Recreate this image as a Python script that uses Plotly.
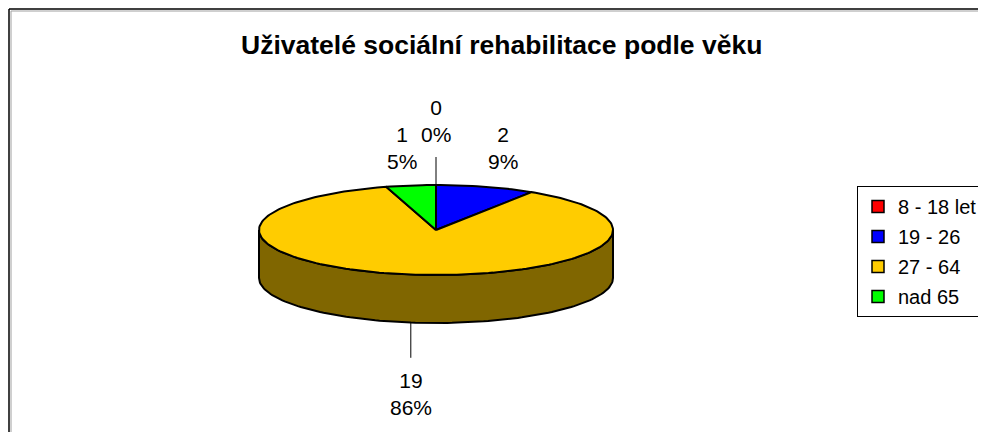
import numpy as np
import plotly.graph_objects as go

# ---- data ----
categories = ["8 - 18 let", "19 - 26", "27 - 64", "nad 65"]
values = [0, 2, 19, 1]
title_text = "Uživatelé sociální rehabilitace podle věku"

# ---- style ----
colors = ["#FF0000", "#0000FF", "#FFCC00", "#00FF00"]
side_colors = ["#800000", "#000080", "#806600", "#008000"]
label_dist = [64, 40, 72, 38]
leader = [True, False, True, False]
FONT = "Liberation Sans, Arial, sans-serif"

W, H = 986, 432
OFF = 8  # page body margin compensation (screen = figure + 8)
cx, cy, rx, ry, depth = 436, 230, 177, 45, 48


def pt(theta, dy=0.0):
    t = np.radians(theta)
    return cx + rx * np.sin(t), cy - ry * np.cos(t) + dy


def arc(a0, a1, dy=0.0):
    n = max(2, int(abs(a1 - a0) / 1.5) + 2)
    th = np.linspace(a0, a1, n)
    xs, ys = pt(th, dy)
    return list(xs), list(ys)


total = sum(values)
angles = []
acc = 0.0
for v in values:
    a0 = acc / total * 360
    acc += v
    a1 = acc / total * 360
    angles.append((a0, a1))

fig = go.Figure()

# side walls (front half only)
for i, (a0, a1) in enumerate(angles):
    s, e = max(a0, 90), min(a1, 270)
    if e <= s:
        continue
    tx, ty = arc(s, e)
    bx, by = arc(e, s, depth)
    fig.add_trace(go.Scatter(
        x=tx + bx + [tx[0]], y=ty + by + [ty[0]], mode="lines",
        fill="toself", fillcolor=side_colors[i],
        line=dict(color="black", width=2), showlegend=False, hoverinfo="skip"))

# top faces
for i, (a0, a1) in enumerate(angles):
    if values[i] <= 0:
        continue
    ax, ay = arc(a0, a1)
    fig.add_trace(go.Scatter(
        x=[cx] + ax + [cx], y=[cy] + ay + [cy], mode="lines",
        fill="toself", fillcolor=colors[i],
        line=dict(color="black", width=2), showlegend=False,
        hoverinfo="text", text=categories[i]))

# labels and leader lines
for i, (a0, a1) in enumerate(angles):
    mid = (a0 + a1) / 2
    front = 90 < mid < 270
    ex, ey = pt(mid, depth if front else 0)
    c = np.cos(np.radians(mid))
    sn = np.sin(np.radians(mid))
    lx = ex if leader[i] else ex + 60 * sn
    ly = ey - c * label_dist[i]
    pct = round(values[i] / total * 100)
    fig.add_annotation(x=lx, y=ly, text=f"{values[i]}<br>{pct}%", showarrow=False,
                       font=dict(family=FONT, size=21, color="black"),
                       xanchor="center", yanchor="middle")
    if leader[i]:
        endy = ly + np.sign(c) * 36
        fig.add_trace(go.Scatter(x=[ex, lx], y=[ey, endy], mode="lines",
                                 line=dict(color="black", width=1), showlegend=False,
                                 hoverinfo="skip"))

# legend entries
for i, cat in enumerate(categories):
    fig.add_trace(go.Scatter(x=[None], y=[None], mode="markers", name=cat,
                             legendgroup=f"g{i}",
                             marker=dict(symbol="square", size=12, color=colors[i],
                                         line=dict(color="black", width=1.5))))

# chart border (top and left visible)
fig.add_shape(type="line", xref="x", yref="y", x0=9, y0=9, x1=W + OFF, y1=9,
              line=dict(color="black", width=1.5))
fig.add_shape(type="line", xref="x", yref="y", x0=9, y0=9, x1=9, y1=H + OFF,
              line=dict(color="black", width=1.5))
fig.add_shape(type="line", xref="x", yref="y", x0=11, y0=11, x1=W + OFF, y1=11,
              line=dict(color="#A0A0A0", width=1))
fig.add_shape(type="line", xref="x", yref="y", x0=11, y0=11, x1=11, y1=H + OFF,
              line=dict(color="#A0A0A0", width=1))

fig.add_annotation(x=501, y=45, text=f"<b>{title_text}</b>", showarrow=False,
                   font=dict(family=FONT, size=26.5, color="black"),
                   xanchor="center", yanchor="middle")

fig.update_layout(
    width=W, height=H, margin=dict(l=0, r=0, t=0, b=0, autoexpand=False),
    paper_bgcolor="white", plot_bgcolor="white",
    xaxis=dict(range=[OFF, W + OFF], visible=False, fixedrange=True),
    yaxis=dict(range=[H + OFF, OFF], visible=False, fixedrange=True),
    showlegend=True,
    legend=dict(x=(857 - OFF) / W, y=1 - (186 - OFF) / H, xanchor="left", yanchor="top",
                bordercolor="black", borderwidth=1, bgcolor="white",
                font=dict(family=FONT, size=20, color="black"),
                itemwidth=30, tracegroupgap=1),
)

fig.write_html("out.html")
